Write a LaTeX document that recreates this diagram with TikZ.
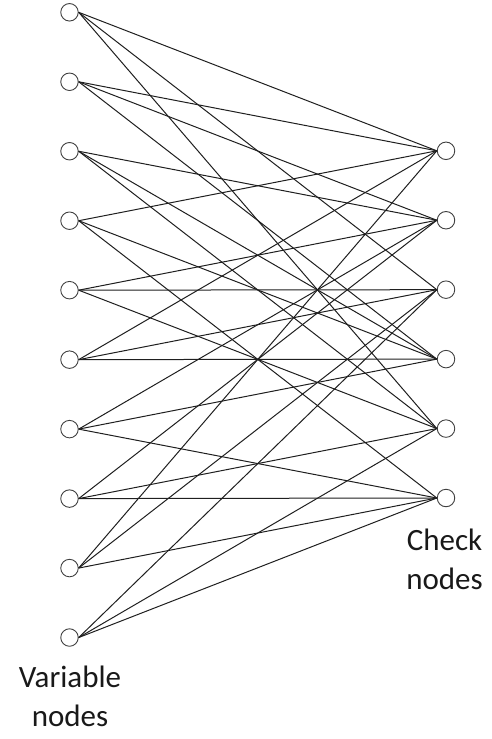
\documentclass[tikz,border=0pt]{standalone}
\usepackage{fontspec}
\setmainfont{Carlito}
\begin{document}
\begin{tikzpicture}[x=1pt,y=-1pt,
  bit/.style={circle,draw=black!75,line width=0.9pt,minimum size=17.5pt,inner sep=0pt},
  edge/.style={draw=black!88,line width=1pt},
  lbl/.style={font=\fontsize{31}{38.5}\selectfont,align=center,text=black!90,inner sep=0pt}]
\useasboundingbox (0,0) rectangle (491,739);
% variable nodes (left column)
\foreach \i in {1,...,10}
  \node[bit] (v\i) at (69.5,{12.3+69.47*(\i-1)}) {};
% check nodes (right column)
\foreach \j in {1,...,6}
  \node[bit] (c\j) at (446,{150.8+69.44*(\j-1)}) {};
% Tanner graph edges: variable i -- check j
\foreach \i/\j in {1/1,1/3,1/5, 2/1,2/2,2/4, 3/2,3/4,3/5, 4/1,4/4,4/6,
                   5/2,5/3,5/5, 6/1,6/3,6/4, 7/2,7/4,7/6, 8/2,8/5,8/6,
                   9/1,9/3,9/6, 10/3,10/5,10/6}
  \draw[edge] (v\i.east) -- (c\j.west);
% labels (base anchor sits on the last line's baseline)
\node[lbl,anchor=base] (vlabel) at (70,726) {Variable\\nodes};
\node[lbl,anchor=base] (clabel) at (444.5,589.3) {Check\\nodes};
\end{tikzpicture}
\end{document}
